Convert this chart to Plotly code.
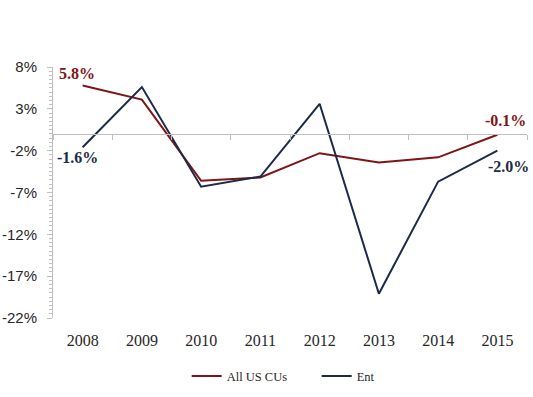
import plotly.graph_objects as go

years = ["2008", "2009", "2010", "2011", "2012", "2013", "2014", "2015"]
all_us_cus = [5.8, 4.1, -5.6, -5.2, -2.3, -3.4, -2.8, -0.1]
ent = [-1.6, 5.6, -6.3, -5.1, 3.6, -19.1, -5.7, -2.0]
y_ticks = [-22, -17, -12, -7, -2, 3, 8]

RED = "#7D1416"
NAVY = "#1B2A47"
AXIS = "#BFBFBF"
TXT = "#262626"
FONT = "Liberation Serif"
SANS = "Liberation Sans"
ymin, ymax = -22, 8

fig = go.Figure()
fig.add_trace(go.Scatter(x=years, y=all_us_cus, mode="lines", name="All US CUs",
                         line=dict(color=RED, width=2)))
fig.add_trace(go.Scatter(x=years, y=ent, mode="lines", name="Ent",
                         line=dict(color=NAVY, width=2)))
# invisible helper trace so the zero-line category axis (with boundary ticks) renders
fig.add_trace(go.Scatter(x=years, y=ent, mode="lines", xaxis="x2", opacity=0,
                         showlegend=False, hoverinfo="skip", line=dict(width=0)))

def lbl(series, i, color, xshift, yshift):
    v = series[i]
    fig.add_annotation(x=i, y=v, xref="x", yref="y", text="<b>%.1f%%</b>" % v,
                       showarrow=False, xshift=xshift, yshift=yshift,
                       font=dict(family=FONT, size=16, color=color))

lbl(all_us_cus, 0, RED, -6, 12)
lbl(ent, 0, NAVY, -5, -10)
lbl(all_us_cus, 7, RED, 8, 14)
lbl(ent, 7, NAVY, 11, -16)

fig.update_layout(
    width=533, height=397,
    margin=dict(l=53, r=6, t=67, b=77),
    paper_bgcolor="white", plot_bgcolor="white",
    font=dict(family=FONT, size=16, color=TXT),
    showlegend=True,
    legend=dict(orientation="h", x=0.282, xanchor="left", y=-0.233, yanchor="middle",
                entrywidth=85, entrywidthmode="pixels",
                font=dict(family=FONT, size=12.5, color=TXT)),
    xaxis=dict(type="category", categoryorder="array", categoryarray=years,
               range=[-0.5, 7.5], showline=False, showgrid=False, zeroline=False,
               automargin=False,
               ticks="", ticklabelstandoff=11, tickfont=dict(size=16, color=TXT)),
    xaxis2=dict(type="category", categoryorder="array", categoryarray=years,
                overlaying="x", anchor="free", position=(0 - ymin) / (ymax - ymin),
                side="bottom", range=[-0.5, 7.5], tickson="boundaries", automargin=False,
                showticklabels=False, ticks="outside", ticklen=5, tickcolor=AXIS,
                showline=True, linecolor=AXIS, linewidth=1, showgrid=False, zeroline=False),
    yaxis=dict(range=[ymin, ymax], tickmode="array", tickvals=y_ticks,
               ticktext=["%d%%" % t for t in y_ticks], automargin=False,
               showline=True, linecolor=AXIS, linewidth=1, showgrid=False, zeroline=False,
               ticks="outside", ticklen=5, tickcolor=AXIS, ticklabelstandoff=7,
               minor=dict(dtick=0.5, tick0=0, ticks="outside", ticklen=3, tickcolor=AXIS),
               tickfont=dict(family=SANS, size=15, color=TXT)),
)

fig.write_html("out.html", config={"displayModeBar": False},
               post_script="document.body.style.margin='0';document.body.style.overflow='hidden';")
